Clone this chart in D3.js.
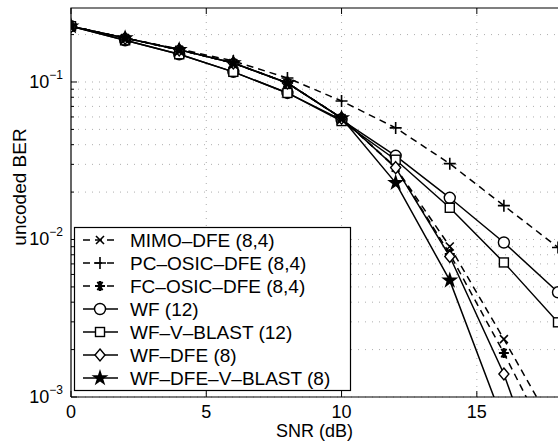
<!DOCTYPE html>
<html>
<head>
<meta charset="utf-8">
<script src="https://cdn.jsdelivr.net/npm/d3@7"></script>
<style>
  body { margin: 0; background: #fff; }
  svg { font-family: "Liberation Sans", Arial, sans-serif; }
</style>
</head>
<body>
<div class="chart"></div>
<script>
// values
const snr = [0, 2, 4, 6, 8, 10, 12, 14, 16, 18];
const mimoDfe     = [0.226, 0.19, 0.16, 0.132, 0.0985, 0.059, 0.0286, 0.00903, 0.00233, 0.000575];
const pcOsicDfe   = [0.226, 0.19, 0.162, 0.136, 0.106, 0.0758, 0.0511, 0.0303, 0.0164, 0.0089];
const fcOsicDfe   = [0.226, 0.19, 0.16, 0.132, 0.0985, 0.059, 0.0286, 0.0081, 0.0019, 0.0004];
const wf          = [0.226, 0.184, 0.15, 0.116, 0.0852, 0.0575, 0.034, 0.0184, 0.00957, 0.00462];
const wfVBlast    = [0.226, 0.184, 0.15, 0.116, 0.0852, 0.0565, 0.0321, 0.0159, 0.00715, 0.00298];
const wfDfe       = [0.226, 0.19, 0.16, 0.132, 0.0985, 0.059, 0.0286, 0.0078, 0.0014, 0.00015];
const wfDfeVBlast = [0.226, 0.19, 0.16, 0.132, 0.0985, 0.059, 0.0229, 0.0055, 0.00068, 0.00005];

const seriesNames = ["MIMO\u2013DFE (8,4)", "PC\u2013OSIC\u2013DFE (8,4)", "FC\u2013OSIC\u2013DFE (8,4)",
  "WF (12)", "WF\u2013V\u2013BLAST (12)", "WF\u2013DFE (8)", "WF\u2013DFE\u2013V\u2013BLAST (8)"];
const seriesValues = [mimoDfe, pcOsicDfe, fcOsicDfe, wf, wfVBlast, wfDfe, wfDfeVBlast];
const seriesMarkers = ["x", "plus", "asterisk", "circle", "square", "diamond", "star"];
const seriesDashed = [true, true, true, false, false, false, false];

const xTicks = [0, 5, 10, 15];
const yMajor = [1e-3, 1e-2, 1e-1];
const yMajorExp = ["\u22123", "\u22122", "\u22121"];

const W = 558, H = 441;
const pl = 71, pr = 558, pt = 8, pb = 397;

const svg = d3.select(".chart").append("svg")
  .attr("width", W).attr("height", H);

const x = d3.scaleLinear().domain([0, 18]).range([pl, pr]);
const y = d3.scaleLog().domain([1e-3, 0.295]).range([pb, pt]);

// minor values for grid / ticks
let yMinor = [];
yMajor.forEach(d => {
  for (let k = 1; k <= 9; k++) {
    const v = d * k;
    if (v <= 0.295) yMinor.push(v);
  }
});

// dotted grid
const grid = svg.append("g").attr("stroke", "#999").attr("stroke-width", 0.8)
  .attr("stroke-dasharray", "1,6");
grid.selectAll("line.h").data(yMinor).enter().append("line")
  .attr("x1", pl).attr("x2", pr)
  .attr("y1", d => y(d)).attr("y2", d => y(d));
grid.selectAll("line.v").data(xTicks.slice(1)).enter().append("line")
  .attr("y1", pt).attr("y2", pb)
  .attr("x1", d => x(d)).attr("x2", d => x(d));

// frame
svg.append("path")
  .attr("d", `M${pl},${pb}V${pt}H${pr}M${pl},${pb}H${pr}`)
  .attr("fill", "none").attr("stroke", "#000").attr("stroke-width", 1.2);

// ticks
const tk = svg.append("g").attr("stroke", "#000").attr("stroke-width", 1);
tk.selectAll("line.xb").data(xTicks).enter().append("line")
  .attr("x1", d => x(d)).attr("x2", d => x(d)).attr("y1", pb).attr("y2", pb - 6);
tk.selectAll("line.xt").data(xTicks).enter().append("line")
  .attr("x1", d => x(d)).attr("x2", d => x(d)).attr("y1", pt).attr("y2", pt + 6);
tk.selectAll("line.ym").data(yMinor).enter().append("line")
  .attr("x1", pl).attr("x2", d => yMajor.includes(d) ? pl + 6 : pl + 3)
  .attr("y1", d => y(d)).attr("y2", d => y(d));

// tick labels
svg.selectAll("text.xl").data(xTicks).enter().append("text")
  .attr("x", d => x(d)).attr("y", 418)
  .attr("text-anchor", "middle").attr("font-size", 18)
  .text(d => d);

const yl = svg.selectAll("text.yl").data(yMajor).enter().append("text")
  .attr("x", 63).attr("y", d => y(d) + 6)
  .attr("text-anchor", "end").attr("font-size", 18);
yl.append("tspan").text("10");
yl.append("tspan").attr("font-size", 12).attr("dy", -9).text((d, i) => yMajorExp[i]);

svg.append("text").attr("x", (pl + pr) / 2).attr("y", 437)
  .attr("text-anchor", "middle").attr("font-size", 18).text("SNR (dB)");
svg.append("text").attr("transform", "translate(26,187) rotate(-90)")
  .attr("text-anchor", "middle").attr("font-size", 19).text("uncoded BER");

// markers
const star = d3.symbol().type(d3.symbolStar).size(90);
function drawMarker(g, type) {
  if (type === "circle") {
    g.append("circle").attr("r", 5.5).attr("fill", "#fff").attr("stroke", "#000").attr("stroke-width", 1.4);
  } else if (type === "square") {
    g.append("rect").attr("x", -4.5).attr("y", -4.5).attr("width", 9).attr("height", 9)
      .attr("fill", "#fff").attr("stroke", "#000").attr("stroke-width", 1.4);
  } else if (type === "diamond") {
    g.append("path").attr("d", "M0,-6L5,0L0,6L-5,0Z")
      .attr("fill", "#fff").attr("stroke", "#000").attr("stroke-width", 1.4);
  } else if (type === "star") {
    g.append("path").attr("d", star()).attr("fill", "#000");
  } else if (type === "x") {
    g.append("path").attr("d", "M-4,-4L4,4M-4,4L4,-4")
      .attr("stroke", "#000").attr("stroke-width", 1.6);
  } else if (type === "plus") {
    g.append("path").attr("d", "M-6,0H6M0,-6V6")
      .attr("stroke", "#000").attr("stroke-width", 1.6);
  } else if (type === "asterisk") {
    g.append("path").attr("d", "M-5,0H5M-2.5,-4.3L2.5,4.3M-2.5,4.3L2.5,-4.3M0,-5V5")
      .attr("stroke", "#000").attr("stroke-width", 2);
  }
}

svg.append("clipPath").attr("id", "clip")
  .append("rect").attr("x", pl).attr("y", 0).attr("width", pr - pl + 20).attr("height", pb);

const plot = svg.append("g").attr("clip-path", "url(#clip)");
const line = d3.line().x((d, i) => x(snr[i])).y(d => y(d));

seriesValues.forEach((vals, s) => {
  plot.append("path").datum(vals)
    .attr("d", line)
    .attr("fill", "none").attr("stroke", "#000").attr("stroke-width", 1.5)
    .attr("stroke-dasharray", seriesDashed[s] ? "7,5" : null);
});
seriesValues.forEach((vals, s) => {
  plot.selectAll(null).data(vals).enter().append("g")
    .attr("transform", (d, i) => `translate(${x(snr[i])},${y(d)})`)
    .each(function () { drawMarker(d3.select(this), seriesMarkers[s]); });
});

// legend
const lg = svg.append("g");
lg.append("rect").attr("x", 74.5).attr("y", 227.5).attr("width", 276).attr("height", 163)
  .attr("fill", "#fff").attr("stroke", "#000").attr("stroke-width", 1.2);
const rows = lg.selectAll("g.row").data(seriesNames).enter().append("g")
  .attr("transform", (d, i) => `translate(0,${240 + i * 23})`);
rows.append("line").attr("x1", 83).attr("x2", 118)
  .attr("stroke", "#000").attr("stroke-width", 1.5)
  .attr("stroke-dasharray", (d, i) => seriesDashed[i] ? "7,5" : null);
rows.append("g").attr("transform", "translate(100,0)")
  .each(function (d, i) { drawMarker(d3.select(this), seriesMarkers[i]); });
rows.append("text").attr("x", 130).attr("y", 7).attr("font-size", 19).text(d => d);
</script>
</body>
</html>
